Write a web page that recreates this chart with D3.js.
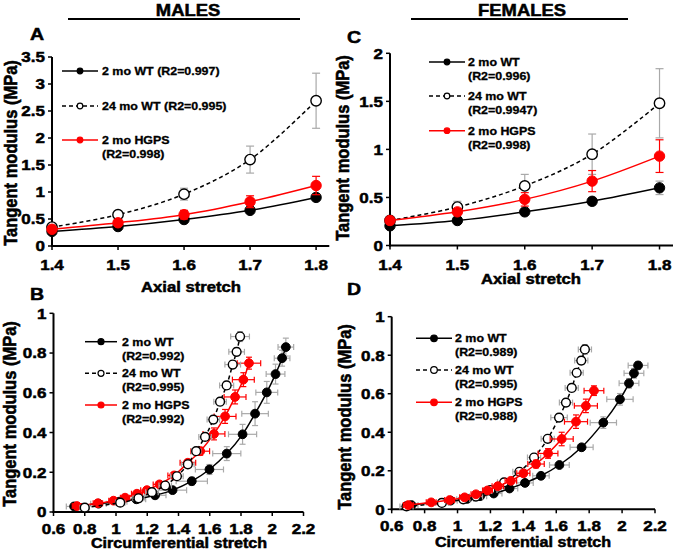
<!DOCTYPE html>
<html><head><meta charset="utf-8">
<script src="https://cdn.jsdelivr.net/npm/d3@7/dist/d3.min.js"></script>
<style>body{margin:0;background:#fff}svg{display:block}</style>
</head><body>
<svg id="c" width="673" height="551"></svg>
<script>
// ---------- DATA ----------
const axialStretch = [1.4, 1.5, 1.6, 1.7, 1.8];
const axialTicks = [1.4, 1.5, 1.6, 1.7, 1.8];
const maleYTicks = [0, 0.5, 1, 1.5, 2, 2.5, 3, 3.5];
const femaleYTicks = [0, 0.5, 1, 1.5, 2];
const circTicks = [0.6, 0.8, 1, 1.2, 1.4, 1.6, 1.8, 2, 2.2];
const circYTicks = [0, 0.2, 0.4, 0.6, 0.8, 1];

// Panel A (males, axial)
const maleWT2 = [0.27, 0.36, 0.49, 0.66, 0.90];
const maleWT2Err = [0.02, 0.02, 0.03, 0.03, 0.07];
const maleWT24 = [0.35, 0.58, 0.96, 1.60, 2.69];
const maleWT24Err = [0.03, 0.04, 0.11, 0.25, 0.51];
const maleHGPS = [0.31, 0.43, 0.58, 0.82, 1.12];
const maleHGPSErr = [0.03, 0.04, 0.08, 0.11, 0.17];

// Panel C (females, axial)
const femaleWT2 = [0.205, 0.26, 0.35, 0.46, 0.60];
const femaleWT2Err = [0.02, 0.02, 0.03, 0.04, 0.07];
const femaleWT24 = [0.26, 0.40, 0.62, 0.95, 1.48];
const femaleWT24Err = [0.02, 0.06, 0.12, 0.21, 0.36];
const femaleHGPS = [0.26, 0.35, 0.48, 0.67, 0.93];
const femaleHGPSErr = [0.02, 0.03, 0.07, 0.11, 0.17];

// Panel B (males, circumferential)
const bWT2x = [0.732, 0.888, 1.02, 1.13, 1.25, 1.362, 1.485, 1.598, 1.709, 1.81, 1.89, 1.965, 2.021, 2.063, 2.087];
const bWT2y = [0.028, 0.042, 0.052, 0.064, 0.084, 0.11, 0.155, 0.214, 0.294, 0.391, 0.495, 0.602, 0.694, 0.774, 0.83];
const bWT2xErr = [0.05, 0.05, 0.05, 0.06, 0.07, 0.09, 0.10, 0.09, 0.09, 0.09, 0.085, 0.07, 0.06, 0.05, 0.05];
const bWT2yErr = [0.004, 0.005, 0.006, 0.008, 0.01, 0.012, 0.02, 0.025, 0.035, 0.05, 0.06, 0.055, 0.05, 0.04, 0.045];
const bWT24x = [0.80, 1.027, 1.144, 1.23, 1.315, 1.39, 1.46, 1.513, 1.57, 1.623, 1.666, 1.708, 1.747, 1.772, 1.794];
const bWT24y = [0.022, 0.047, 0.069, 0.10, 0.133, 0.18, 0.24, 0.306, 0.378, 0.465, 0.555, 0.637, 0.742, 0.806, 0.883];
const bWT24xErr = [0.03, 0.03, 0.035, 0.04, 0.04, 0.04, 0.04, 0.03, 0.04, 0.04, 0.04, 0.045, 0.05, 0.05, 0.06];
const bWT24yErr = [0.004, 0.005, 0.006, 0.008, 0.01, 0.012, 0.014, 0.016, 0.018, 0.02, 0.02, 0.02, 0.02, 0.02, 0.025];
const bHGPSx = [0.75, 0.884, 0.984, 1.058, 1.134, 1.198, 1.278, 1.372, 1.46, 1.539, 1.627, 1.698, 1.762, 1.815, 1.851];
const bHGPSy = [0.03, 0.044, 0.057, 0.072, 0.092, 0.11, 0.139, 0.184, 0.248, 0.306, 0.393, 0.481, 0.579, 0.666, 0.749];
const bHGPSxErr = [0.03, 0.03, 0.03, 0.03, 0.035, 0.04, 0.04, 0.04, 0.05, 0.06, 0.07, 0.07, 0.07, 0.07, 0.075];
const bHGPSyErr = [0.004, 0.005, 0.006, 0.007, 0.008, 0.01, 0.01, 0.012, 0.015, 0.02, 0.03, 0.035, 0.035, 0.035, 0.03];

// Panel D (females, circumferential)
const dWT2x = [0.72, 0.958, 1.059, 1.137, 1.22, 1.316, 1.41, 1.507, 1.619, 1.754, 1.886, 1.987, 2.042, 2.072, 2.097];
const dWT2y = [0.022, 0.045, 0.054, 0.068, 0.082, 0.108, 0.137, 0.174, 0.23, 0.322, 0.45, 0.571, 0.654, 0.706, 0.747];
const dWT2xErr = [0.04, 0.04, 0.04, 0.04, 0.05, 0.05, 0.05, 0.05, 0.06, 0.07, 0.08, 0.08, 0.06, 0.06, 0.06];
const dWT2yErr = [0.004, 0.005, 0.005, 0.006, 0.007, 0.008, 0.009, 0.01, 0.012, 0.015, 0.03, 0.03, 0.025, 0.025, 0.02];
const dWT24x = [0.69, 0.905, 1.035, 1.112, 1.20, 1.283, 1.376, 1.465, 1.548, 1.617, 1.659, 1.694, 1.724, 1.752, 1.774];
const dWT24y = [0.015, 0.033, 0.052, 0.066, 0.10, 0.14, 0.195, 0.269, 0.366, 0.476, 0.554, 0.63, 0.709, 0.772, 0.83];
const dWT24xErr = [0.04, 0.04, 0.04, 0.04, 0.04, 0.04, 0.04, 0.04, 0.04, 0.05, 0.04, 0.04, 0.04, 0.04, 0.04];
const dWT24yErr = [0.004, 0.005, 0.005, 0.006, 0.007, 0.008, 0.01, 0.012, 0.015, 0.02, 0.02, 0.02, 0.02, 0.02, 0.025];
const dHGPSx = [0.701, 0.84, 0.952, 1.043, 1.112, 1.182, 1.245, 1.324, 1.40, 1.477, 1.55, 1.633, 1.72, 1.78, 1.829];
const dHGPSy = [0.022, 0.036, 0.048, 0.062, 0.078, 0.098, 0.12, 0.148, 0.187, 0.235, 0.29, 0.365, 0.455, 0.537, 0.616];
const dHGPSxErr = [0.03, 0.03, 0.03, 0.03, 0.03, 0.03, 0.035, 0.035, 0.04, 0.05, 0.06, 0.07, 0.07, 0.07, 0.06];
const dHGPSyErr = [0.004, 0.005, 0.005, 0.006, 0.007, 0.008, 0.01, 0.012, 0.015, 0.02, 0.025, 0.035, 0.035, 0.035, 0.025];

// Legend texts
const legA = [["2 mo WT (R2=0.997)"], ["24 mo WT (R2=0.995)"], ["2 mo HGPS", "(R2=0.998)"]];
const legB = [["2 mo WT", "(R2=0.992)"], ["24 mo WT", "(R2=0.995)"], ["2 mo HGPS", "(R2=0.992)"]];
const legC = [["2 mo WT", "(R2=0.996)"], ["24 mo WT", "(R2=0.9947)"], ["2 mo HGPS", "(R2=0.998)"]];
const legD = [["2 mo WT", "(R2=0.989)"], ["24 mo WT", "(R2=0.995)"], ["2 mo HGPS", "(R2=0.988)"]];

// ---------- DRAWING ----------
const svg = d3.select('#c');
const FONT = '"Liberation Sans", Arial, Helvetica, sans-serif';
const SX = 1.15;
const RED = '#ff0000', GRAY = '#a9a9a9';

function txt(g, x, y, s, size, anchor, rotate) {
  const t = g.append('text').text(s)
    .attr('font-family', FONT).attr('font-weight', 'bold')
    .attr('font-size', size).attr('text-anchor', anchor || 'start')
    .attr('fill', '#000').attr('stroke', '#000').attr('stroke-width', size > 12 ? 0.5 : 0.3);
  if (rotate) t.attr('transform', `translate(${x},${y}) rotate(-90) scale(1,${SX})`);
  else t.attr('transform', `translate(${x},${y}) scale(${SX},1)`);
  return t;
}
const fmt = v => String(+v.toFixed(2));

function axes(g, x, y, xt, yt, labOff) {
  const [x0, x1] = x.range(), y0 = y(0), yTop = y(yt[yt.length - 1]);
  g.append('line').attr('x1', x0).attr('x2', x0).attr('y1', y0 + 1).attr('y2', yTop).attr('stroke', '#000').attr('stroke-width', 2);
  g.append('line').attr('x1', x0 - 1).attr('x2', x1).attr('y1', y0).attr('y2', y0).attr('stroke', '#000').attr('stroke-width', 2);
  yt.forEach(v => {
    g.append('line').attr('x1', x0 - 4).attr('x2', x0).attr('y1', y(v)).attr('y2', y(v)).attr('stroke', '#000').attr('stroke-width', 1.5);
    txt(g, x0 - 7, y(v) + 5.3, fmt(v), 14.8, 'end');
  });
  xt.forEach(v => {
    g.append('line').attr('x1', x(v)).attr('x2', x(v)).attr('y1', y0).attr('y2', y0 + 4).attr('stroke', '#000').attr('stroke-width', 1.5);
    txt(g, x(v), y0 + labOff, fmt(v), 14.8, 'middle');
  });
}

function series(g, x, y, xs, ys, yErr, xErr, style, r, cap) {
  const pts = xs.map((v, i) => ({x: v, y: ys[i], ye: yErr ? yErr[i] : 0, xe: xErr ? xErr[i] : 0}));
  const ecol = style.type === 'red' ? RED : GRAY;
  const eg = g.append('g').attr('stroke', ecol).attr('stroke-width', 1.2);
  pts.forEach(p => {
    if (p.ye) {
      eg.append('line').attr('x1', x(p.x)).attr('x2', x(p.x)).attr('y1', y(p.y - p.ye)).attr('y2', y(p.y + p.ye));
      [p.y - p.ye, p.y + p.ye].forEach(v => eg.append('line').attr('x1', x(p.x) - cap).attr('x2', x(p.x) + cap).attr('y1', y(v)).attr('y2', y(v)));
    }
    if (p.xe) {
      eg.append('line').attr('x1', x(p.x - p.xe)).attr('x2', x(p.x + p.xe)).attr('y1', y(p.y)).attr('y2', y(p.y));
      [p.x - p.xe, p.x + p.xe].forEach(v => eg.append('line').attr('x1', x(v)).attr('x2', x(v)).attr('y1', y(p.y) - cap).attr('y2', y(p.y) + cap));
    }
  });
  const line = d3.line().x(p => x(p.x)).y(p => y(p.y)).curve(d3.curveCatmullRom.alpha(0.5));
  g.append('path').attr('d', line(pts)).attr('fill', 'none')
    .attr('stroke', style.type === 'red' ? RED : '#000').attr('stroke-width', 1.5)
    .attr('stroke-dasharray', style.type === 'open' ? '4,3' : null);
  g.append('g').selectAll('circle').data(pts).join('circle')
    .attr('cx', p => x(p.x)).attr('cy', p => y(p.y)).attr('r', r)
    .attr('fill', style.type === 'open' ? '#fff' : (style.type === 'red' ? RED : '#000'))
    .attr('stroke', style.type === 'red' ? RED : '#000').attr('stroke-width', style.type === 'open' ? 1.4 : 1);
}

function legend(g, lx0, lx1, tx, rows, leg, mr, fs) {
  const types = ['black', 'open', 'red'];
  rows.forEach((yy, i) => {
    const t = types[i];
    const col = t === 'red' ? RED : '#000';
    g.append('line').attr('x1', lx0).attr('x2', lx1).attr('y1', yy).attr('y2', yy)
      .attr('stroke', col).attr('stroke-width', 1.5).attr('stroke-dasharray', t === 'open' ? '4,3' : null);
    g.append('circle').attr('cx', (lx0 + lx1) / 2).attr('cy', yy).attr('r', mr)
      .attr('fill', t === 'open' ? '#fff' : col).attr('stroke', col).attr('stroke-width', 1.2);
    leg[i].forEach((s, j) => txt(g, tx, yy + 4 + j * 13.8, s, fs, 'start'));
  });
}

const S = {black: {type: 'black'}, open: {type: 'open'}, red: {type: 'red'}};

// ----- Headers -----
txt(svg, 188, 16, 'MALES', 16, 'middle');
svg.append('line').attr('x1', 68).attr('x2', 300).attr('y1', 19).attr('y2', 19).attr('stroke', '#000').attr('stroke-width', 2);
txt(svg, 522, 16, 'FEMALES', 16, 'middle');
svg.append('line').attr('x1', 411).attr('x2', 628).attr('y1', 19).attr('y2', 19).attr('stroke', '#000').attr('stroke-width', 2);

// ----- Panel A -----
{
  const g = svg.append('g');
  const x = d3.scaleLinear().domain([1.4, 1.82]).range([52, 329.3]);
  const y = d3.scaleLinear().domain([0, 3.5]).range([246, 57]);
  axes(g, x, y, axialTicks, maleYTicks, 24);
  series(g, x, y, axialStretch, maleWT24, maleWT24Err, null, S.open, 5.2, 4);
  series(g, x, y, axialStretch, maleWT2, maleWT2Err, null, S.black, 5.2, 4);
  series(g, x, y, axialStretch, maleHGPS, maleHGPSErr, null, S.red, 5.2, 4);
  legend(g, 62, 98, 102, [71, 106, 140], legA, 2.8, 10.8);
  txt(g, 30, 40, 'A', 17, 'start');
  txt(g, 191, 292, 'Axial stretch', 14.5, 'middle');
  txt(g, 17, 153, 'Tangent modulus (MPa)', 16.5, 'middle', true);
}
// ----- Panel C -----
{
  const g = svg.append('g');
  const x = d3.scaleLinear().domain([1.4, 1.82]).range([390, 673]);
  const y = d3.scaleLinear().domain([0, 2]).range([245.5, 53.3]);
  axes(g, x, y, axialTicks, femaleYTicks, 24);
  series(g, x, y, axialStretch, femaleWT24, femaleWT24Err, null, S.open, 5.2, 4);
  series(g, x, y, axialStretch, femaleWT2, femaleWT2Err, null, S.black, 5.2, 4);
  series(g, x, y, axialStretch, femaleHGPS, femaleHGPSErr, null, S.red, 5.2, 4);
  legend(g, 429, 465, 468, [62, 96, 130.7], legC, 2.8, 10.8);
  txt(g, 347, 43, 'C', 17, 'start');
  txt(g, 531, 284, 'Axial stretch', 14.5, 'middle');
  txt(g, 349, 148, 'Tangent modulus (MPa)', 16.5, 'middle', true);
}
// ----- Panel B -----
{
  const g = svg.append('g');
  const x = d3.scaleLinear().domain([0.6, 2.2]).range([53.5, 303.5]);
  const y = d3.scaleLinear().domain([0, 1]).range([512, 313.3]);
  axes(g, x, y, circTicks, circYTicks, 21.5);
  series(g, x, y, bWT2x, bWT2y, bWT2yErr, bWT2xErr, S.black, 4.4, 3);
  series(g, x, y, bHGPSx, bHGPSy, bHGPSyErr, bHGPSxErr, S.red, 4.4, 3);
  series(g, x, y, bWT24x, bWT24y, bWT24yErr, bWT24xErr, S.open, 4.4, 3);
  legend(g, 85, 117, 122, [341.7, 373.3, 405], legB, 3, 10.8);
  txt(g, 30, 300, 'B', 17, 'start');
  txt(g, 179, 548, 'Circumferential stretch', 14, 'middle');
  txt(g, 16, 414, 'Tangent modulus (MPa)', 16.5, 'middle', true);
}
// ----- Panel D -----
{
  const g = svg.append('g');
  const x = d3.scaleLinear().domain([0.6, 2.2]).range([391.7, 655]);
  const y = d3.scaleLinear().domain([0, 1]).range([509.3, 316.7]);
  axes(g, x, y, circTicks, circYTicks, 21.5);
  series(g, x, y, dWT2x, dWT2y, dWT2yErr, dWT2xErr, S.black, 4.4, 3);
  series(g, x, y, dWT24x, dWT24y, dWT24yErr, dWT24xErr, S.open, 4.4, 3);
  series(g, x, y, dHGPSx, dHGPSy, dHGPSyErr, dHGPSxErr, S.red, 4.4, 3);
  legend(g, 416, 452, 455, [338.3, 370, 402.3], legD, 3.3, 10.8);
  txt(g, 347, 295, 'D', 17, 'start');
  txt(g, 523, 546.5, 'Circumferential stretch', 14, 'middle');
  txt(g, 350.5, 417, 'Tangent modulus (MPa)', 16.5, 'middle', true);
}
</script>
</body></html>
